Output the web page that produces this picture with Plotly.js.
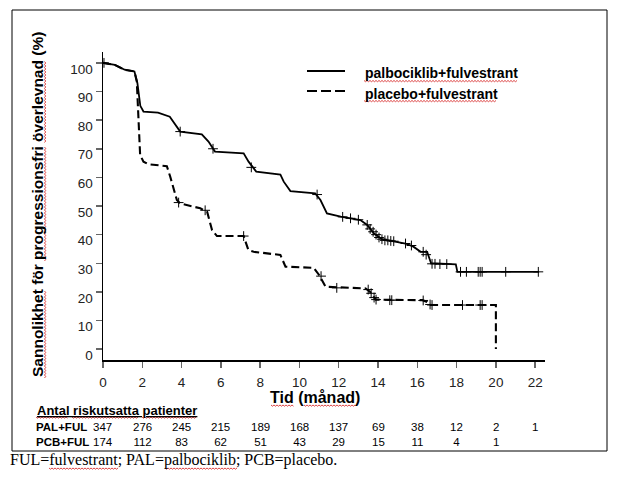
<!DOCTYPE html>
<html><head><meta charset="utf-8">
<script src="https://cdn.plot.ly/plotly-3.0.1.min.js"></script>
<style>body{margin:0;background:#fff}#chart{width:635px;height:482px}</style>
</head><body><div id="chart"></div>
<script>
// Kaplan-Meier curve: PAL+FUL
const palMonths = [0, 0.6, 1.1, 1.6, 1.75, 1.9, 2.06, 2.8, 3.4, 3.67, 3.93, 5.03, 5.37, 5.7, 7.16, 7.41, 7.8, 9.03, 9.2, 9.54, 10.8, 11.07, 11.4, 12.1, 12.6, 13.1, 13.45, 13.8, 14.2, 14.98, 15.4, 15.8, 16.17, 16.5, 16.7, 17.96, 18.04, 22.2];
const palSurv   = [100, 99.3, 97.6, 97, 93, 85, 83, 82.6, 81.2, 78.3, 76, 75, 72.5, 69, 68.4, 65.5, 62, 61, 58.5, 55.2, 54.4, 52.1, 47.4, 46.3, 45.7, 45.1, 43.4, 40.4, 38.4, 37.5, 36.9, 35.8, 34, 34, 30, 29.6, 27, 27];
// PCB+FUL
const pcbMonths = [0, 0.6, 1.1, 1.6, 1.72, 1.8, 1.89, 2.06, 2.3, 3.25, 3.42, 3.76, 3.93, 4.95, 5.3, 5.55, 5.8, 7.16, 7.4, 7.67, 9.03, 9.29, 10.73, 11.0, 11.33, 13.37, 13.6, 13.88, 16.26, 16.5, 16.68, 20.0, 20.0];
const pcbSurv   = [100, 99.3, 97.6, 97, 93.5, 79.5, 67.8, 65.5, 64.6, 63.9, 60.3, 52.1, 50.9, 49.2, 48, 41.6, 39.5, 39.5, 34.6, 34, 32.9, 28.8, 28.4, 25.9, 21.8, 21.2, 20, 17.3, 17.1, 16.5, 15.4, 15.4, 0];
// censored observations
const palCensorX = [0.05, 3.93, 5.6, 7.55, 10.9, 12.2, 12.6, 13.0, 13.45, 13.6, 13.75, 13.9, 14.05, 14.2, 14.35, 14.5, 14.65, 14.8, 15.4, 15.7, 16.3, 16.45, 16.75, 16.9, 17.15, 17.5, 18.2, 18.5, 19.1, 19.2, 19.3, 20.5, 22.16];
const palCensorY = [100, 76, 70, 63.5, 54, 46.2, 45.7, 45.2, 43.4, 42, 41, 40, 39, 38.4, 38, 38, 37.8, 37.7, 36.9, 36.2, 34, 33, 29.8, 29.8, 29.7, 29.7, 27, 27, 27, 27, 27, 27, 27];
const pcbCensorX = [3.85, 5.2, 7.16, 11.1, 11.9, 13.5, 13.65, 13.8, 13.9, 14.6, 14.7, 16.3, 16.65, 16.75, 18.3, 19.2, 19.3];
const pcbCensorY = [51.2, 48.5, 39.5, 25.5, 21.4, 20.8, 19.5, 18, 17.3, 17.1, 17.1, 17, 15.6, 15.4, 15.4, 15.4, 15.4];
// risk table
const riskMonths = [0, 2, 4, 6, 8, 10, 12, 14, 16, 18, 20, 22];
const palRisk = [347, 276, 245, 215, 189, 168, 137, 69, 38, 12, 2, 1];
const pcbRisk = [174, 112, 83, 62, 51, 43, 29, 15, 11, 4, 1];
const rowLabels = ['PAL+FUL', 'PCB+FUL'];
const yTicks = [0, 10, 20, 30, 40, 50, 60, 70, 80, 90, 100];
const seriesNames = ['palbociklib+fulvestrant', 'placebo+fulvestrant'];

const F = 'Liberation Sans, Arial, sans-serif';
const traces = [
  {x: palMonths, y: palSurv, mode: 'lines', line: {color: '#000', width: 1.8}, showlegend: false},
  {x: pcbMonths, y: pcbSurv, mode: 'lines', line: {color: '#000', width: 2.1, dash: '8px,4px'}, showlegend: false},
  {x: palCensorX, y: palCensorY, mode: 'markers', marker: {symbol: 'cross-thin-open', size: 7, color: '#000', line: {color: '#000', width: 1}}, showlegend: false},
  {x: pcbCensorX, y: pcbCensorY, mode: 'markers', marker: {symbol: 'cross-thin-open', size: 7, color: '#000', line: {color: '#000', width: 1}}, showlegend: false}
];

const px = p => (p - 103) / 442;
const py = p => (360 - p) / 308;

const annotations = [];
annotations.push({xref: 'paper', yref: 'paper', x: px(315), y: py(397), text: '<b>Tid (månad)</b>', showarrow: false, font: {family: F, size: 16, color: '#000'}, xanchor: 'center', yanchor: 'middle'});
annotations.push({xref: 'paper', yref: 'paper', x: px(37), y: py(205), text: '<b>Sannolikhet för progressionsfri överlevnad (%)</b>', textangle: -90, showarrow: false, font: {family: F, size: 15.5, color: '#000'}, xanchor: 'center', yanchor: 'middle'});
annotations.push({xref: 'paper', yref: 'paper', x: px(363), y: py(73.5), text: '<b>' + seriesNames[0] + '</b>', showarrow: false, font: {family: F, size: 14, color: '#000'}, xanchor: 'left', yanchor: 'middle'});
annotations.push({xref: 'paper', yref: 'paper', x: px(363), y: py(93.5), text: '<b>' + seriesNames[1] + '</b>', showarrow: false, font: {family: F, size: 14, color: '#000'}, xanchor: 'left', yanchor: 'middle'});
annotations.push({xref: 'paper', yref: 'paper', x: px(35), y: py(410), text: '<b><u>Antal riskutsatta patienter</u></b>', showarrow: false, font: {family: F, size: 13, color: '#000'}, xanchor: 'left', yanchor: 'middle'});
annotations.push({xref: 'paper', yref: 'paper', x: px(34), y: py(419), text: '<b>' + rowLabels.join('<br>') + '</b>', showarrow: false, font: {family: F, size: 11.5, color: '#000'}, xanchor: 'left', yanchor: 'top', align: 'left'});
riskMonths.forEach((m, i) => {
  const rows = [palRisk[i], pcbRisk[i]].filter(v => v !== undefined).map(String);
  annotations.push({xref: 'x', yref: 'paper', x: m, y: py(419), text: rows.join('<br>'), showarrow: false, font: {family: F, size: 11.5, color: '#000'}, xanchor: 'center', yanchor: 'top'});
});
annotations.push({xref: 'paper', yref: 'paper', x: px(8), y: py(460), text: 'FUL=fulvestrant; PAL=palbociklib; PCB=placebo.', showarrow: false, font: {family: 'Liberation Serif, Times New Roman, serif', size: 16, color: '#000'}, xanchor: 'left', yanchor: 'middle'});

// red spell-check squiggles (decoration in page pixels)
function squiggleH(x0, x1, y) {
  let d = 'M' + px(x0) + ',' + py(y);
  let k = 0;
  for (let x = x0 + 1.5; x <= x1; x += 1.5) { k++; d += ' L' + px(x) + ',' + py(y + (k % 2 ? 1.2 : 0)); }
  return {type: 'path', xref: 'paper', yref: 'paper', path: d, line: {color: '#d83030', width: 0.9}};
}
function squiggleV(x, y0, y1) {
  let d = 'M' + px(x) + ',' + py(y0);
  let k = 0;
  for (let y = y0 - 1.5; y >= y1; y -= 1.5) { k++; d += ' L' + px(x + (k % 2 ? 1.2 : 0)) + ',' + py(y); }
  return {type: 'path', xref: 'paper', yref: 'paper', path: d, line: {color: '#d83030', width: 0.9}};
}

const shapes = [
  {type: 'rect', xref: 'paper', yref: 'paper', x0: px(12), x1: px(607), y0: py(10), y1: py(451), line: {color: '#000', width: 1}},
  {type: 'line', xref: 'paper', yref: 'paper', x0: px(307), x1: px(345), y0: py(71), y1: py(71), line: {color: '#000', width: 1.8}},
  {type: 'line', xref: 'paper', yref: 'paper', x0: px(307), x1: px(345), y0: py(91), y1: py(91), line: {color: '#000', width: 2, dash: '10px,4px'}},
  squiggleH(364, 518, 80.5), squiggleH(364, 497, 100.5),
  squiggleH(271, 294, 405), squiggleH(304, 355, 405),
  squiggleH(36, 68, 417), squiggleH(72, 138, 417), squiggleH(142, 196, 417),
  squiggleH(49, 118, 468), squiggleH(165, 237, 468),
  squiggleV(44.5, 378, 290), squiggleV(44.5, 261, 147), squiggleV(44.5, 142.5, 61)
];

const layout = {
  width: 635, height: 482,
  margin: {l: 103, r: 90, t: 52, b: 122, pad: 0},
  paper_bgcolor: '#fff', plot_bgcolor: '#fff',
  showlegend: false,
  font: {family: F, size: 13, color: '#222'},
  xaxis: {range: [0, 22.5], tickvals: riskMonths, ticktext: riskMonths.map(String), showgrid: false, zeroline: false,
          showline: true, linecolor: '#000', linewidth: 1.5, ticks: 'outside', ticklen: 6, tickwidth: 1.5, tickcolor: '#666',
          ticklabelstandoff: 3, tickfont: {family: F, size: 13.5, color: '#222'}},
  yaxis: {range: [-3.8, 103.8], tickvals: yTicks, ticktext: yTicks.map(String), showgrid: false, zeroline: false,
          showline: true, linecolor: '#000', linewidth: 1.5, ticks: 'outside', ticklen: 6, tickwidth: 1.5, tickcolor: '#666',
          ticklabelshift: 6, tickfont: {family: F, size: 13.5, color: '#222'}},
  annotations: annotations,
  shapes: shapes
};
Plotly.newPlot('chart', traces, layout, {staticPlot: true});
</script></body></html>
